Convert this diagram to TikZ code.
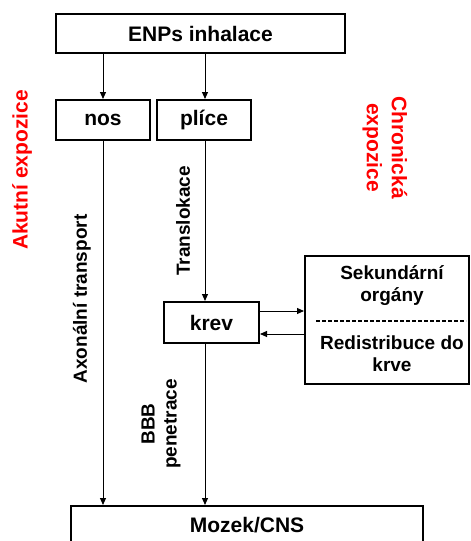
\documentclass[tikz,border=0pt]{standalone}
\usepackage{fontspec}
\setmainfont{Liberation Sans}
\usetikzlibrary{arrows.meta}
\definecolor{lblred}{RGB}{255,0,0}
\tikzset{
  box/.style={draw, line width=2pt, inner sep=0pt, font=\fontsize{21}{25}\selectfont\bfseries},
  arr/.style={line width=1pt, -{Triangle[length=7pt,width=6pt]}},
  plain/.style={line width=1pt},
  lbl/.style={font=\fontsize{19}{22}\selectfont\bfseries, inner sep=0pt, align=center},
  redlbl/.style={font=\fontsize{21}{25}\selectfont\bfseries, text=lblred, inner sep=0pt, align=center}
}
\begin{document}
\begin{tikzpicture}[x=1pt,y=-1pt]
\clip (0,0) rectangle (471,541);
\useasboundingbox (0,0) rectangle (471,541);

\node[box, minimum width=289pt, minimum height=39pt] (top) at (200.5,33.5) {ENPs inhalace};
\node[box, minimum width=94pt, minimum height=40pt] (nos) at (103,120) {nos};
\node[box, minimum width=94pt, minimum height=40pt] (plice) at (204,120) {plíce};
\node[box, minimum width=95pt, minimum height=41pt] (krev) at (211.5,322.5) {krev};
\node[box, minimum width=164pt, minimum height=128pt] (sek) at (387,320) {};
\node[box, minimum width=352pt, minimum height=38pt] (mozek) at (247,525) {Mozek/CNS};

\node[lbl] (sektext) at (392,285.5) {Sekundární\\orgány};
\node[lbl] (redtext) at (392,354) {Redistribuce do\\krve};
\draw[line width=1.6pt, dash pattern=on 4pt off 2pt] ([xshift=12pt,yshift=-1pt]sek.west) -- ([xshift=-4pt,yshift=-1pt]sek.east);

\coordinate (anos) at (103,53);
\coordinate (aplice) at (205,53);
\draw[arr] (anos) -- (anos |- nos.north);
\draw[arr] (aplice) -- (aplice |- plice.north);

\coordinate (pl) at (205,140);
\draw[arr] (pl) -- (pl |- krev.north);
\coordinate (kr) at (205,343);
\draw[arr] (kr) -- (kr |- mozek.north);
\draw[arr] (nos.south) -- (nos.south |- mozek.north);

\coordinate (k1) at ([yshift=11.5pt]krev.east);
\coordinate (k2) at ([yshift=-11.5pt]krev.east);
\draw[arr] (k1) -- (k1 -| sek.west);
\draw[arr] (k2 -| sek.west) -- (k2);

\node[redlbl, rotate=90] (akut) at (22,170) {Akutní expozice};
\node[redlbl, rotate=-90] (chron) at (385,147.5) {Chronická\\expozice};
\node[lbl, rotate=90] (transl) at (183,221) {Translokace};
\node[lbl, rotate=90] (axon) at (82,299) {Axonální transport};
\node[lbl, rotate=90] (bbb) at (161,424) {BBB\\penetrace};
\end{tikzpicture}
\end{document}
